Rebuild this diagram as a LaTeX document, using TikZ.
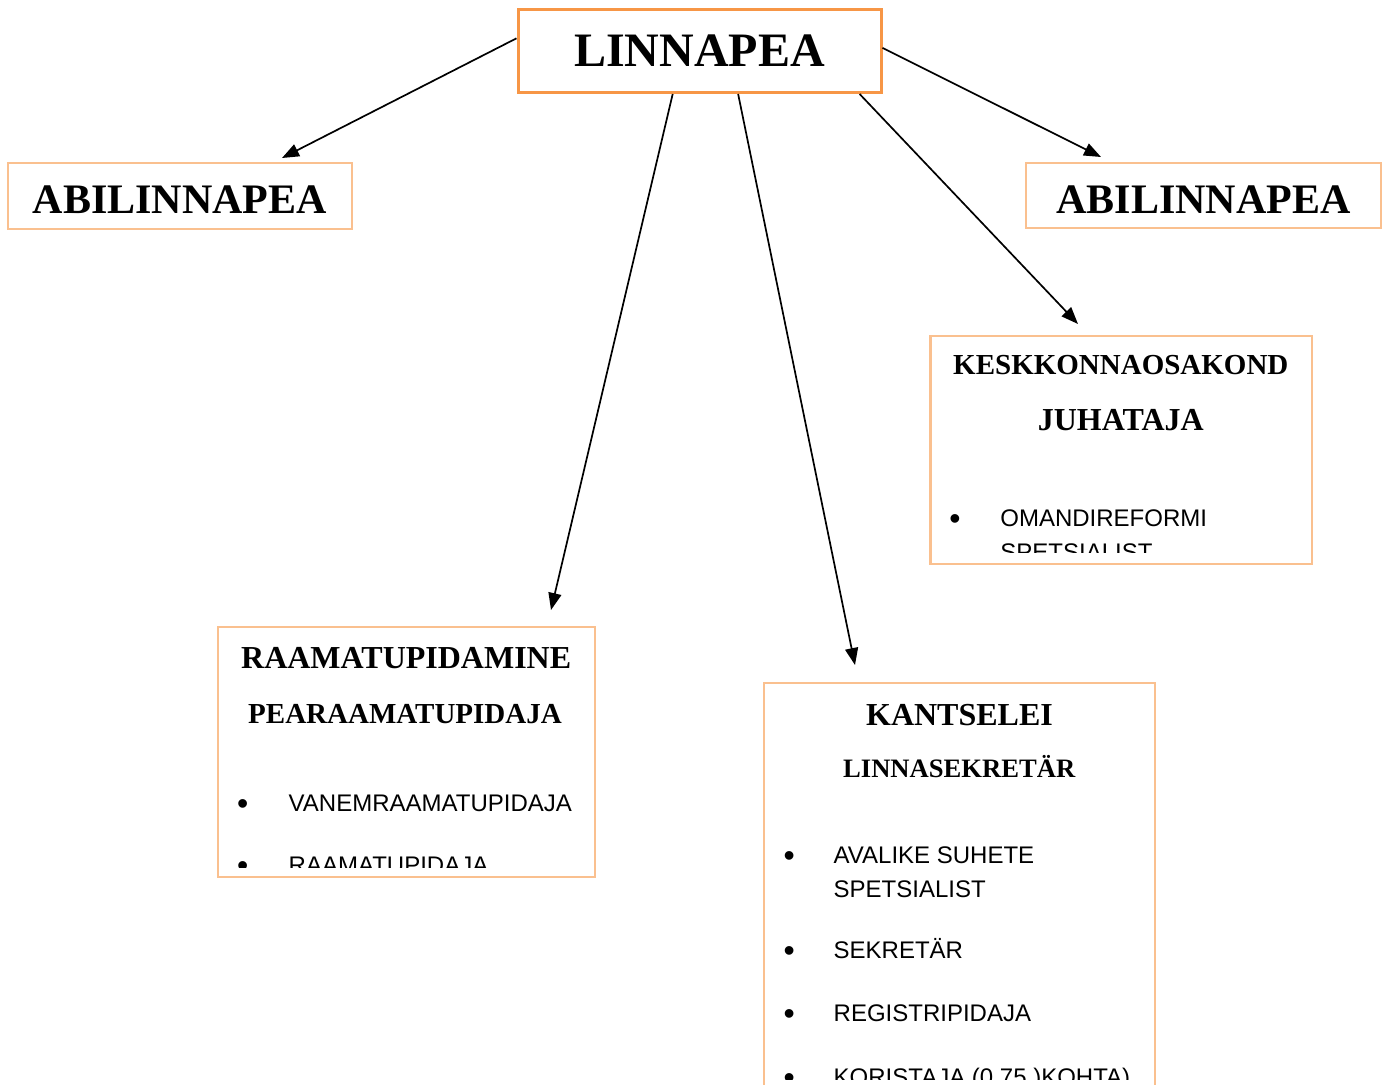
\documentclass[tikz,border=0pt]{standalone}
\usepackage{fontspec}
\setmainfont{Liberation Serif}
\newfontfamily\arialfont{Liberation Sans}
\usepackage{tikz}
\usetikzlibrary{arrows.meta}
\usepackage{tkz-euclide}

\definecolor{chiefcol}{HTML}{F79646}
\definecolor{unitcol}{HTML}{FAC08F}

\tikzset{
  chiefbox/.style={draw=chiefcol, line width=1.5pt, inner sep=0pt,
    minimum width=181.5pt, minimum height=41.4pt,
    font=\bfseries\fontsize{24}{29}\selectfont},
  deptbox/.style={draw=unitcol, line width=1.1pt, inner sep=0pt},
  abibox/.style={deptbox, text depth=0pt,
    font=\bfseries\fontsize{21}{25}\selectfont},
  titletext/.style={anchor=base, inner sep=0pt,
    font=\bfseries\fontsize{16}{19}\selectfont},
  itemtext/.style={anchor=base west, inner sep=0pt,
    font=\arialfont\fontsize{12}{14}\selectfont},
  bullettext/.style={anchor=base, inner sep=0pt, yshift=-1.5pt,
    font=\arialfont\fontsize{16}{19}\selectfont},
  arr/.style={-{Triangle[length=8.5pt,width=6.5pt]}, line width=0.85pt}
}

\begin{document}
\begin{tikzpicture}[x=0.5pt, y=-0.5pt]

%% 画面大小 1387 x 1084
\clip (0,0) rectangle (1387,1084);

%% 定义方框中心(a/b/<name>)
\tkzDefPoints{699.5/51.1/L, 179.7/195.9/AL, 1203.4/195.5/AR,
  406.5/752/R, 1121.3/450/K, 959.5/889.2/S}
%% 箭头的终点
\tkzDefPoints{282/158/tAL, 1101/157/tAR, 551/610/tR, 855/665/tS, 1078/324/tK}

%% 方框
\node[chiefbox] (linnapea) at (L) {LINNAPEA};
\node[abibox, minimum width=172pt, minimum height=33.15pt,
  text height=17.4pt] (abiL) at (AL) {ABILINNAPEA};
\node[abibox, minimum width=177.35pt, minimum height=32.8pt,
  text height=17.8pt] (abiR) at (AR) {ABILINNAPEA};
\node[deptbox, minimum width=188.2pt, minimum height=125.3pt] (raamat) at (R) {};
\node[deptbox, minimum width=190.75pt, minimum height=114pt] (kesk) at (K) {};
\node[deptbox, minimum width=195.2pt, minimum height=205.85pt] (kants) at (S) {};

%% 方框里的文字, 下面被切掉
\begin{scope}
\clip (raamat.north west) rectangle ([yshift=5.5pt]raamat.south east);
\node[titletext] (raaT) at (406.2,668.3) {RAAMATUPIDAMINE};
\node[titletext, font=\bfseries\fontsize{14.5}{17}\selectfont] (raaP) at (405,723.3) {PEARAAMATUPIDAJA};
\node[bullettext] (raaB1) at (242.7,811.7) {•};
\node[itemtext] (raaI1) at (288.3,811.7) {VANEMRAAMATUPIDAJA};
\node[bullettext] (raaB2) at (242.7,873.7) {•};
\node[itemtext] (raaI2) at (288.3,873.7) {RAAMATUPIDAJA};
\end{scope}

\begin{scope}
\clip (kesk.north west) rectangle ([yshift=6.5pt]kesk.south east);
\node[titletext, font=\bfseries\fontsize{14.5}{17}\selectfont] (kesT) at (1120.8,374) {KESKKONNAOSAKOND};
\node[titletext] (kesJ) at (1120.8,430.7) {JUHATAJA};
\node[bullettext] (kesB1) at (955,526) {•};
\node[itemtext] (kesI1) at (1000,526) {OMANDIREFORMI};
\node[itemtext] (kesI1b) at (1000,560) {SPETSIALIST};
\end{scope}

\begin{scope}
\clip (kants.north west) rectangle ([yshift=8.5pt]kants.south east);
\node[titletext] (kanT) at (959.5,725.7) {KANTSELEI};
\node[titletext, font=\bfseries\fontsize{13.3}{16}\selectfont] (kanL) at (959.2,777.7) {LINNASEKRETÄR};
\node[bullettext] (kanB1) at (789.3,863.3) {•};
\node[itemtext] (kanI1) at (833.3,863.3) {AVALIKE SUHETE};
\node[itemtext] (kanI1b) at (833.3,897.3) {SPETSIALIST};
\node[bullettext] (kanB2) at (789.3,958.3) {•};
\node[itemtext] (kanI2) at (833.3,958.3) {SEKRETÄR};
\node[bullettext] (kanB3) at (789.3,1021.7) {•};
\node[itemtext] (kanI3) at (833.3,1021.7) {REGISTRIPIDAJA};
\node[bullettext] (kanB4) at (789.3,1085) {•};
\node[itemtext] (kanI4) at (833.3,1085) {KORISTAJA (0,75 )KOHTA)};
\end{scope}

%% 箭头
\draw[arr] (linnapea.176) -- (tAL);
\draw[arr] (linnapea.1) -- (tAR);
\draw[arr] (linnapea.238) -- (tR);
\draw[arr] (linnapea.312) -- (tS);
\draw[arr] (linnapea.345) -- (tK);

\end{tikzpicture}
\end{document}
